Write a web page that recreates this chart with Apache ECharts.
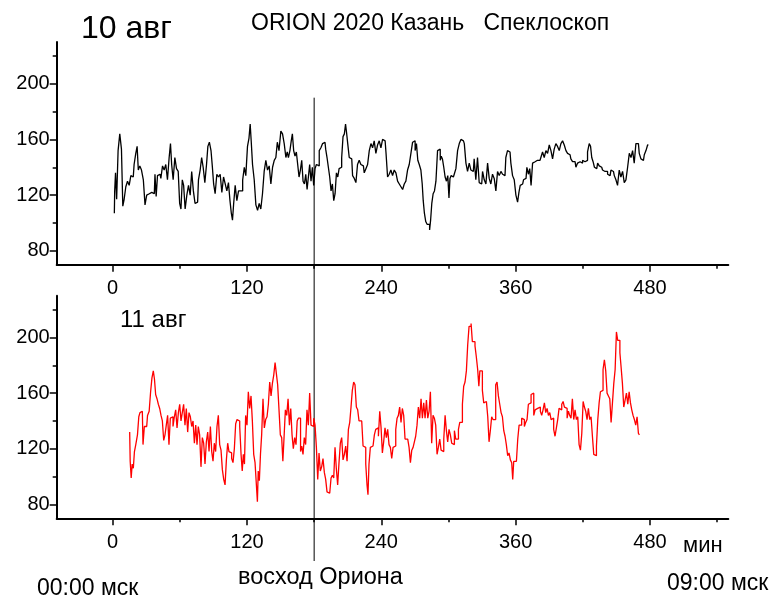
<!DOCTYPE html>
<html><head><meta charset="utf-8">
<script src="https://cdn.jsdelivr.net/npm/echarts@6/dist/echarts.min.js"></script>
<style>html,body{margin:0;padding:0;background:#fff}#c{width:773px;height:600px}</style>
</head><body><div id="c"></div>
<script>
// [minute, value] — 10 Aug (black)
const aug10 = [[1.5,107],[2.1,123],[3.0,136],[4.1,117],[5.6,152],[7.1,164],[8.6,153],[9.5,112],[11.0,117],[12.5,126],[14.0,130],[15.5,127],[17.0,134],[18.4,133],[19.9,142],[21.4,150],[22.3,155],[23.5,138],[25.0,141],[26.5,138],[28.3,131],[29.5,113],[31.3,120],[32.7,121],[34.2,122],[35.7,123],[37.2,121],[38.4,135],[39.3,119],[40.8,134],[42.3,135],[43.8,132],[45.3,141],[46.7,138],[48.2,142],[49.7,131],[51.2,147],[52.1,157],[53.3,142],[54.8,131],[56.3,147],[57.8,139],[59.3,137],[60.4,114],[61.6,110],[62.8,131],[64.0,127],[65.5,110],[67.0,120],[68.5,127],[70.0,120],[71.2,137],[73.0,123],[74.2,114],[75.9,115],[77.4,131],[78.9,138],[80.1,147],[81.6,140],[83.1,129],[84.6,142],[85.5,155],[87.3,158],[88.4,152],[89.6,141],[90.8,128],[92.3,121],[93.8,135],[95.3,133],[96.8,135],[98.3,122],[99.8,133],[101.3,128],[102.7,123],[104.2,129],[105.4,116],[106.6,107],[107.5,102],[108.7,114],[110.2,127],[111.7,116],[113.2,123],[115.3,123],[117.0,131],[118.2,140],[119.7,134],[121.2,155],[122.4,161],[123.3,171],[124.2,159],[125.7,142],[127.2,131],[128.7,113],[130.2,109],[131.6,114],[133.1,110],[134.6,121],[136.1,137],[137.6,145],[139.1,138],[140.6,141],[142.1,128],[143.6,140],[145.1,145],[146.5,147],[147.7,158],[149.5,152],[151.0,166],[152.5,164],[154.0,157],[155.5,147],
[156.4,151],[157.6,147],[159.1,152],[160.0,159],[161.1,164],[162.3,152],[163.5,148],[164.7,151],[165.9,142],[167.1,133],[168.3,138],[169.5,145],[170.7,130],[171.9,128],[173.1,135],[174.3,124],[175.4,133],[176.6,142],[177.8,130],[179.0,140],[180.2,127],[181.4,139],[182.6,142],[183.8,141],[185.3,152],[186.8,154],[188.3,157],[189.7,158],[190.9,153],[192.1,147],[193.3,140],[194.5,133],[195.7,123],[196.9,128],[198.1,116],[199.3,121],[200.5,136],[201.7,133],[202.9,139],[204.0,140],[205.2,147],[206.4,162],[207.6,164],[208.5,171],[209.4,165],[210.6,157],[212.1,147],[213.6,146],[215.1,134],[216.6,132],[218.0,129],[219.5,142],[221.0,145],[222.5,142],[224.0,141],[225.5,136],[227.0,139],[228.5,142],[230.0,152],[231.5,157],[232.9,154],[234.4,159],[235.9,150],[237.4,156],[238.9,159],[240.4,154],[241.9,160],[243.4,159],[244.9,151],[246.3,133],[247.8,135],[249.3,138],[250.8,134],[252.3,138],[253.8,136],[255.3,130],[256.8,128],[258.3,126],[259.8,124],[261.2,128],[262.7,130],[264.2,138],[265.7,142],[267.2,150],[268.7,158],[269.6,159],[270.8,152],[272.0,157],[273.2,145],[274.6,142],[276.1,138],[277.0,128],[277.9,116],[279.1,107],[280.3,101],[281.5,99],[282.7,99],[283.6,95],[284.5,102],[285.7,114],[286.9,121],[288.1,123],[289.5,130],[291.0,152],[292.2,153],[293.1,145],[294.0,148],[295.2,146],[296.4,140],[297.6,133],[298.8,130],[300.0,134],[300.9,118],[301.8,132],[303.0,134],[304.4,133],[305.9,135],[307.4,139],[308.9,152],[310.4,157],[311.9,160],[313.4,159],[314.9,157],
[316.3,143],[317.8,137],[319.3,143],[320.8,138],[322.2,137],[323.7,146],[325.2,131],[326.7,147],[328.2,129],[329.7,128],[331.2,137],[332.7,131],[334.2,128],[335.7,143],[337.1,132],[338.6,128],[340.1,135],[341.6,132],[343.1,123],[344.6,137],[346.1,134],[347.6,137],[349.1,135],[350.5,134],[352.0,147],[353.5,152],[355.0,151],[356.5,143],[358.0,134],[359.5,131],[361.0,120],[362.5,115],[363.4,122],[364.8,127],[366.3,128],[367.8,131],[369.3,132],[370.8,140],[372.0,135],[373.2,139],[374.4,127],[375.9,143],[377.4,144],[378.8,145],[380.3,146],[381.8,145],[383.3,147],[384.8,151],[386.3,147],[387.8,152],[389.3,150],[390.8,156],[392.3,152],[393.7,146],[395.2,153],[396.7,157],[398.2,155],[399.7,152],[401.2,157],[402.7,159],[404.2,156],[405.7,152],[407.1,150],[408.6,149],[410.1,146],[411.6,144],[413.1,144],[414.6,140],[416.1,143],[417.6,144],[419.1,143],[420.6,145],[422.0,144],[423.5,145],[425.0,151],[426.5,157],[427.4,155],[428.6,147],[429.8,144],[431.0,140],[432.5,139],[434.0,143],[435.4,141],[436.9,140],[438.4,138],[439.9,137],[441.4,137],[442.9,135],[444.4,134],[445.9,138],[447.4,137],[448.9,134],[450.3,131],[451.8,127],[453.3,138],[454.8,133],[456.3,137],[457.8,129],[459.3,131],[460.8,140],[462.3,150],[463.8,147],[465.2,152],[466.7,143],[468.2,157],[469.7,157],[471.2,150],[472.7,146],[474.2,145],[475.7,149],[477.2,152],[478.6,156]];

// [minute, value] — 11 Aug (red)
const aug11 = [[15.2,132],[16.1,111],[17.0,99],[17.9,109],[19.0,106],[19.9,118],[21.4,123],[22.9,130],[23.8,143],[25.0,146],[26.5,147],[27.7,123],[28.9,136],[30.4,136],[31.9,144],[33.3,147],[34.5,161],[35.7,171],[36.9,176],[37.8,170],[39.0,159],[40.2,156],[41.4,152],[42.6,149],[43.8,144],[45.0,140],[46.2,126],[47.3,130],[48.5,137],[49.7,144],[50.9,123],[52.1,142],[53.3,143],[54.5,136],[55.7,143],[56.9,148],[58.1,135],[59.3,146],[60.5,152],[61.6,140],[62.8,146],[64.0,152],[65.2,137],[66.4,149],[67.6,132],[68.8,146],[70.0,143],[71.2,136],[72.4,140],[73.6,124],[74.8,137],[75.9,123],[77.1,136],[78.3,130],[79.5,107],[80.7,128],[81.9,124],[83.1,109],[84.3,125],[85.5,132],[86.7,118],[87.9,136],[89.1,118],[90.2,111],[91.4,124],[92.6,118],[93.8,136],[95.0,144],[96.2,123],[97.4,119],[98.6,105],[99.8,98],[101.0,94],[102.2,112],[103.3,124],[104.5,118],[105.7,117],[106.9,113],[108.1,110],[109.3,120],[110.5,138],[111.7,141],[112.9,140],[114.1,136],[115.3,116],[116.2,104],[117.3,116],[118.2,109],[119.4,144],[120.6,137],[121.8,161],[123.0,149],[124.2,158],[125.4,140],[126.6,116],[127.8,110],[129.0,94],[129.6,82],[130.5,104],[131.6,97],[132.5,116],[133.7,130],[134.9,156],[136.1,135],[137.3,141],[138.5,143],[139.7,152],[140.9,168],[142.1,158],[143.3,167],[144.5,173],[145.7,182],[146.8,174],[148.0,166],[149.2,148],[150.4,130],[151.6,128],[152.5,111],[153.7,128],[154.9,148],[156.1,144],[157.3,156],[158.5,137],[159.7,149],[160.8,130],[162.0,120],[163.2,128],[164.4,123],[165.3,140],[166.5,142],
[167.4,142],[168.3,118],[169.5,122],[170.6,116],[171.8,128],[173.0,123],[174.2,148],[175.4,137],[176.6,160],[177.8,137],[179.0,136],[180.2,142],[181.4,137],[182.6,121],[183.8,98],[184.9,117],[186.1,104],[187.3,107],[188.5,113],[189.7,103],[190.9,98],[192.1,89],[193.3,88],[194.5,88],[195.7,99],[196.9,101],[198.1,99],[199.2,121],[200.4,106],[201.6,94],[202.8,110],[204.0,124],[205.2,128],[206.4,112],[207.6,116],[208.8,122],[210.0,111],[211.2,134],[212.4,139],[213.5,150],[214.7,162],[215.9,168],[217.1,166],[218.3,150],[219.5,148],[220.7,140],[221.9,140],[223.1,139],[224.3,122],[225.5,121],[226.7,109],[227.8,94],[228.4,87],[229.6,109],[230.8,121],[232.0,122],[233.2,121],[234.4,130],[235.6,134],[236.8,135],[238.0,129],[239.2,147],[240.4,135],[241.5,117],[242.7,125],[243.9,135],[245.1,128],[246.3,134],[247.5,123],[248.7,121],[249.9,113],[251.1,121],[252.3,122],[253.5,134],[254.7,142],[255.8,144],[257.0,150],[258.2,139],[259.4,149],[260.6,144],[261.8,127],[263.0,127],[264.2,127],[265.4,121],[266.6,110],[267.8,119],[269.0,121],[270.1,125],[271.3,129],[272.5,137],[273.7,150],[274.9,142],[276.1,156],[277.3,142],[278.5,153],[279.7,142],[280.9,155],[282.1,142],[283.3,147],[284.4,161],[285.6,124],[286.8,144],[288.0,142],[289.2,137],[290.4,116],[291.6,121],[292.8,127],[294.0,119],[295.2,118],[296.4,127],[297.6,144],[298.7,133],[299.9,125],[301.1,134],[302.3,130],[303.5,124],[304.7,123],[305.9,133],[307.1,127],[308.3,127],[309.5,134],[310.7,139],[311.9,139],[313.0,152],[314.2,165],[315.4,168],[316.6,176],[317.8,195],[319.0,208],
[319.6,208],[320.8,210],[321.9,197],[323.1,197],[324.3,194],[325.5,186],[326.7,177],[327.6,165],[328.5,176],[329.7,176],[330.9,162],[332.1,153],[333.3,154],[334.5,155],[335.7,143],[336.8,125],[338.0,133],[339.2,143],[340.4,141],[341.6,141],[342.8,166],[344.0,168],[345.2,158],[346.4,152],[347.6,146],[348.8,143],[350.0,133],[351.1,129],[352.3,123],[353.5,115],[354.7,117],[355.9,112],[357.1,110],[357.7,98],[358.9,111],[360.1,111],[361.3,112],[362.5,127],[363.7,137],[364.8,137],[366.0,142],[367.2,141],[368.4,136],[369.6,139],[370.8,141],[372.0,152],[373.2,153],[374.4,159],[375.6,160],[376.8,144],[378.0,148],[379.1,149],[380.3,148],[381.5,150],[382.7,147],[383.9,144],[385.1,148],[386.3,153],[387.5,146],[388.7,149],[389.9,144],[391.1,146],[392.3,141],[393.4,142],[394.6,134],[395.8,129],[397.0,135],[398.2,141],[399.4,149],[400.6,148],[401.8,152],[403.0,154],[404.2,150],[405.4,149],[406.6,142],[407.7,147],[408.9,144],[410.1,142],[411.3,156],[412.5,141],[413.7,148],[414.9,141],[416.1,143],[417.3,123],[418.5,119],[419.7,131],[420.9,154],[422.0,150],[423.2,147],[424.4,141],[425.6,149],[426.8,141],[428.0,143],[429.2,129],[430.4,116],[431.6,115],[432.8,122],[434.0,141],[435.2,153],[436.3,161],[437.5,162],[438.7,177],[439.9,184],[441.1,176],[442.3,160],[443.5,158],[444.7,156],[445.9,139],[447.1,153],[448.3,167],[449.5,177],[450.6,204],[451.8,198],[452.7,198],[453.6,189],[454.8,179],[456.0,167],[457.2,150],[458.4,155],[459.6,160],[460.8,152],[462.0,161],[463.2,153],[464.3,148],[465.5,144],[466.7,141],[467.9,137],[469.1,143],[470.3,131],[470.9,130]];

const xMajor = [0, 120, 240, 360, 480];
const xMinor = [60, 180, 300, 420, 540];
const yMajor = [80, 120, 160, 200];
const yMinor = [100, 140, 180, 220];
const xRange = [-50, 550];
const yRange = [70, 230];
const sunriseMinute = 180;
const sunriseLineTop = 190;
const titleText = 'ORION 2020 Казань   Спеклоскоп';
const day1Text = '10 авг';
const day2Text = '11 авг';
const unitText = 'мин';
const sunriseText = 'восход Ориона';
const startText = '00:00 мск';
const endText = '09:00 мск';

const FONT = "'Liberation Sans', Arial, sans-serif";
const chart = echarts.init(document.getElementById('c'), null, {renderer: 'canvas'});

const grids = [
  {left: 56.7, top: 42, width: 671.6, height: 222.7},
  {left: 56.7, top: 295.8, width: 671.6, height: 222.5}
];

function xAxesFor(g) {
  return [
    {type: 'value', gridIndex: g, position: 'bottom', min: xRange[0], max: xRange[1],
     axisLine: {show: true, onZero: false, lineStyle: {color: '#000', width: 2}},
     axisTick: {show: true, customValues: xMajor, length: 7, lineStyle: {color: '#000', width: 1.5}},
     axisLabel: {show: true, customValues: xMajor, margin: 14, fontSize: 20, color: '#000', fontFamily: FONT},
     splitLine: {show: false}},
    {type: 'value', gridIndex: g, position: 'bottom', min: xRange[0], max: xRange[1],
     axisLine: {show: false, onZero: false},
     axisTick: {show: true, customValues: xMinor, length: 4, lineStyle: {color: '#000', width: 1.5}},
     axisLabel: {show: false}, splitLine: {show: false}}
  ];
}
function yAxesFor(g) {
  return [
    {type: 'value', gridIndex: g, position: 'left', min: yRange[0], max: yRange[1],
     axisLine: {show: true, onZero: false, lineStyle: {color: '#000', width: 2}},
     axisTick: {show: true, customValues: yMajor, length: 7, lineStyle: {color: '#000', width: 1.5}},
     axisLabel: {show: true, customValues: yMajor, margin: 7, fontSize: 20, color: '#000', fontFamily: FONT},
     splitLine: {show: false}},
    {type: 'value', gridIndex: g, position: 'left', min: yRange[0], max: yRange[1],
     axisLine: {show: false, onZero: false},
     axisTick: {show: true, customValues: yMinor, length: 4, lineStyle: {color: '#000', width: 1.5}},
     axisLabel: {show: false}, splitLine: {show: false}}
  ];
}

chart.setOption({
  animation: false,
  backgroundColor: '#fff',
  grid: grids,
  xAxis: [...xAxesFor(0), ...xAxesFor(1)],
  yAxis: [...yAxesFor(0), ...yAxesFor(1)],
  series: [
    {type: 'line', name: day1Text, xAxisIndex: 0, yAxisIndex: 0, data: aug10, showSymbol: false,
     step: 'middle', color: '#000', lineStyle: {color: '#000', width: 1.3}, silent: true},
    {type: 'line', name: day2Text, xAxisIndex: 2, yAxisIndex: 2, data: aug11, showSymbol: false,
     step: 'middle', color: '#ff0000', lineStyle: {color: '#ff0000', width: 1.3}, silent: true}
  ]
});

const lx = chart.convertToPixel({xAxisIndex: 0}, sunriseMinute);
const ly = chart.convertToPixel({yAxisIndex: 0}, sunriseLineTop);

function txt(id, text, x, y, size) {
  return {type: 'text', id: id, x: x, y: y, silent: true,
    style: {text: text, fill: '#000', font: size + 'px ' + FONT, textAlign: 'left', textVerticalAlign: 'middle'}};
}

chart.setOption({
  graphic: [
    {type: 'line', id: 'sunrise', silent: true, shape: {x1: lx, y1: ly, x2: lx, y2: 561},
     style: {stroke: '#000', lineWidth: 1}},
    txt('t1', day1Text, 81, 29.5, 32),
    txt('t2', titleText, 251, 24, 23),
    txt('t3', day2Text, 120, 320.5, 24),
    txt('t4', unitText, 683, 546, 22),
    txt('t5', sunriseText, 238, 578, 23.5),
    txt('t6', startText, 37, 589, 23),
    txt('t7', endText, 667, 584, 23)
  ]
});
</script>
</body></html>
